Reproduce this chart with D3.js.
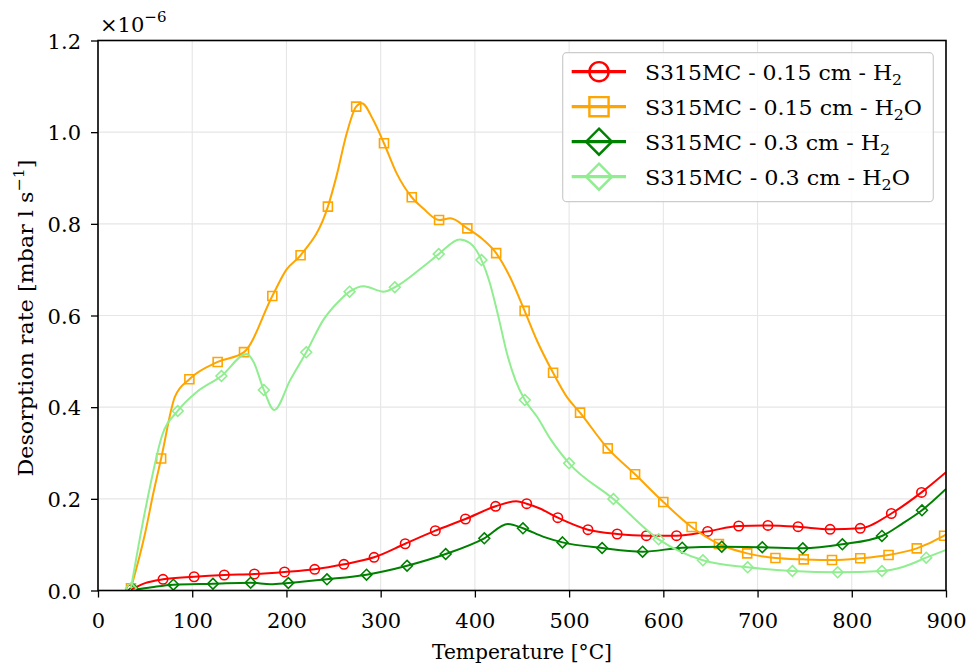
<!DOCTYPE html>
<html>
<head>
<meta charset="utf-8">
<script src="https://cdn.jsdelivr.net/npm/d3@7"></script>
<style>
  body { margin: 0; background: #fff; }
</style>
</head>
<body>
<svg id="chart" width="967" height="665"></svg>
<script>
// ---- axis ticks ----
const xTicks = [0, 100, 200, 300, 400, 500, 600, 700, 800, 900];
const yTicks = [0.0, 0.2, 0.4, 0.6, 0.8, 1.0, 1.2];

// ---- series (temperature in °C, desorption rate in 1e-6 mbar l/s) ----
// "marks" are the sampled points that carry a marker, "between" are the
// remaining samples of the same measured curve.
const seriesNames = ["S315MC - 0.15 cm - H2", "S315MC - 0.15 cm - H2O",
                     "S315MC - 0.3 cm - H2", "S315MC - 0.3 cm - H2O"];
const seriesColors = ["#ff0000", "#ffa500", "#008000", "#90ee90"];
const seriesMarkers = ["circle", "square", "diamond", "diamond"];

const h2Thin_marks = [[35,0.002],[69,0.0244],[102,0.030],[134,0.0338],[166,0.036],[198,0.0404],
  [230,0.0463],[261,0.0572],[293,0.0724],[326,0.102],[358,0.1305],[390,0.156],[422,0.1837],
  [455,0.1894],[488,0.159],[520,0.1327],[551,0.1233],[582,0.1196],[614,0.1196],[647,0.129],
  [680,0.1407],[711,0.142],[743,0.1392],[777,0.1335],[809,0.1356],[842,0.168],[874,0.214]];
const h2Thin_between = [[50,0.016],[444,0.195],[469,0.179],[900,0.258]];

const h2oThin_marks = [[35,0.005],[67,0.288],[97,0.461],[127,0.4986],[155,0.520],[185,0.6426],
  [215,0.7314],[244,0.8375],[274,1.0557],[303.5,0.9758],[333,0.858],[362,0.8084],[392,0.790],
  [422.6,0.736],[452.8,0.6102],[483,0.475],[511.6,0.388],[541,0.310],[570,0.2535],[600,0.193],
  [630,0.1385],[659,0.1015],[689,0.081],[719,0.0709],[749,0.068],[779,0.0665],[809,0.0703],
  [839,0.0775],[869,0.092],[898,0.1196]];
const h2oThin_between = [[50,0.125],[58.7,0.212],[81.7,0.423],[200,0.700],[253,0.903],[264,0.9976],
  [280,1.063],[292,1.027],[317,0.910],[345,0.834],[374,0.812],[409,0.765],[437,0.685],
  [465.6,0.5466],[497.4,0.423],[900,0.122]];

const h2Thick_marks = [[38,0.001],[80,0.0127],[122,0.0148],[162,0.017],[202,0.0164],[243,0.0244],
  [285,0.0345],[328,0.054],[369,0.0796],[410,0.1139],[451,0.1357],[493,0.105],[535,0.0927],
  [578,0.0847],[620,0.0934],[662,0.0956],[705,0.0943],[748,0.092],[790,0.1008],[832,0.119],
  [874.5,0.175]];
const h2Thick_between = [[57,0.007],[183,0.0135],[435,0.145],[473,0.117],[853,0.145],[900,0.2215]];

const h2oThick_marks = [[35,0.005],[84.6,0.3917],[131,0.468],[176,0.4375],[221,0.5197],[267,0.652],
  [315,0.6616],[361.6,0.734],[407,0.721],[453,0.4157],[500,0.2775],[547,0.1996],[595,0.1117],
  [642,0.0659],[689.5,0.0506],[737,0.0425],[785,0.0397],[832,0.0425],[879,0.0716]];
const h2oThick_between = [[42.8,0.0956],[55.2,0.2265],[67.6,0.3356],[103,0.430],[158,0.516],
  [165,0.499],[187,0.394],[204,0.459],[239,0.590],[257,0.634],[282,0.664],[303,0.652],
  [345,0.7065],[384,0.766],[395,0.7576],[416,0.670],[425,0.597],[434,0.5176],[443,0.459],
  [466,0.379],[481,0.328],[618,0.085],[855,0.052],[900,0.0884]];

const seriesMarks = [h2Thin_marks, h2oThin_marks, h2Thick_marks, h2oThick_marks];
const seriesBetween = [h2Thin_between, h2oThin_between, h2Thick_between, h2oThick_between];

// ---- layout ----
const svg = d3.select("#chart");
const plotLeft = 98, plotRight = 946, plotTop = 40.5, plotBottom = 590.5;
const x = d3.scaleLinear().domain([0, 900]).range([plotLeft, plotRight]);
const y = d3.scaleLinear().domain([0, 1.2]).range([plotBottom, plotTop]);
const serif = "DejaVu Serif";

svg.append("rect").attr("width", 967).attr("height", 665).attr("fill", "#fff");

svg.append("defs").append("clipPath").attr("id", "plotClip")
  .append("rect").attr("x", plotLeft).attr("y", plotTop)
  .attr("width", plotRight - plotLeft).attr("height", plotBottom - plotTop);

// grid
const grid = svg.append("g").attr("stroke", "#e6e6e6").attr("stroke-width", 1.1);
grid.selectAll("line.gx").data(xTicks).join("line").attr("class", "gx")
  .attr("x1", d => x(d)).attr("x2", d => x(d)).attr("y1", plotTop).attr("y2", plotBottom);
grid.selectAll("line.gy").data(yTicks).join("line").attr("class", "gy")
  .attr("y1", d => y(d)).attr("y2", d => y(d)).attr("x1", plotLeft).attr("x2", plotRight);

// marker shapes
function markerPath(kind, s) {
  if (kind === "circle") {
    const p = d3.path(); p.moveTo(s, 0); p.arc(0, 0, s, 0, 2 * Math.PI); p.closePath(); return p.toString();
  }
  if (kind === "square") {
    return `M${-s},${-s}L${s},${-s}L${s},${s}L${-s},${s}Z`;
  }
  return `M0,${-s}L${s},0L0,${s}L${-s},0Z`;
}
const plotMarkerSize = { circle: 4.7, square: 4.5, diamond: 5.4 };
const legendMarkerSize = { circle: 9.6, square: 9.6, diamond: 13 };

const line = d3.line().x(d => x(d[0])).y(d => y(d[1])).curve(d3.curveMonotoneX);
const plot = svg.append("g").attr("clip-path", "url(#plotClip)");

seriesNames.forEach((name, i) => {
  const pts = seriesMarks[i].concat(seriesBetween[i]).sort((a, b) => a[0] - b[0]);
  const g = plot.append("g");
  g.append("path").datum(pts).attr("d", line)
    .attr("fill", "none").attr("stroke", seriesColors[i]).attr("stroke-width", 2)
    .attr("stroke-linejoin", "round");
  g.selectAll("path.mk").data(seriesMarks[i]).join("path")
    .attr("class", "mk")
    .attr("transform", d => `translate(${x(d[0])},${y(d[1])})`)
    .attr("d", markerPath(seriesMarkers[i], plotMarkerSize[seriesMarkers[i]]))
    .attr("fill", "none").attr("stroke", seriesColors[i]).attr("stroke-width", 1.6);
});

// axes
const fontSize = 21;
const xAxis = svg.append("g").attr("transform", `translate(0,${plotBottom})`)
  .call(d3.axisBottom(x).tickValues(xTicks).tickSize(7).tickFormat(d3.format("d")));
xAxis.select(".domain").remove();
xAxis.selectAll(".tick line").attr("stroke", "#000").attr("stroke-width", 1.3);
xAxis.selectAll(".tick text").attr("y", 37.8).attr("dy", 0);

const yAxis = svg.append("g").attr("transform", `translate(${plotLeft},0)`)
  .call(d3.axisLeft(y).tickValues(yTicks).tickSize(7).tickFormat(d3.format(".1f")));
yAxis.select(".domain").remove();
yAxis.selectAll(".tick line").attr("stroke", "#000").attr("stroke-width", 1.3);
yAxis.selectAll(".tick text").attr("x", -17).attr("dy", "0.37em");

[xAxis, yAxis].forEach(a => a.attr("font-family", serif).attr("font-size", fontSize));
svg.selectAll(".tick text").attr("fill", "#000");

// frame
svg.append("rect").attr("x", plotLeft).attr("y", plotTop)
  .attr("width", plotRight - plotLeft).attr("height", plotBottom - plotTop)
  .attr("fill", "none").attr("stroke", "#000").attr("stroke-width", 1.6);

// text layer
const labels = svg.append("g").attr("font-family", serif).attr("font-size", fontSize);

// offset text
const off = labels.append("text").attr("x", 100).attr("y", 32);
off.append("tspan").text("×10");
off.append("tspan").attr("dy", -10).attr("font-size", 15).text("−6");

// axis labels
const xl = labels.append("text").attr("x", (plotLeft + plotRight) / 2).attr("y", 659)
  .attr("text-anchor", "middle").text("Temperature [°C]");
const yl = labels.append("text").attr("transform", "translate(33,318) rotate(-90)")
  .attr("text-anchor", "middle");
yl.append("tspan").text("Desorption rate [mbar l s");
yl.append("tspan").attr("dy", -9).attr("font-size", 15).text("−1");
yl.append("tspan").attr("dy", 9).text("]");

function fitWidth(sel, w) {
  sel.attr("textLength", w).attr("lengthAdjust", "spacingAndGlyphs");
}
fitWidth(xl, 180);
fitWidth(yl, 317);

// legend
const legend = svg.append("g");
legend.append("rect").attr("x", 562.7).attr("y", 52.7).attr("width", 370.6).attr("height", 149)
  .attr("rx", 4).attr("fill", "#fff").attr("fill-opacity", 0.85)
  .attr("stroke", "#cccccc").attr("stroke-width", 1.2);
const legendWidths = [257, 277, 245, 265];
seriesNames.forEach((name, i) => {
  const cy = 71.7 + i * 35;
  const g = legend.append("g");
  g.append("line").attr("x1", 571.7).attr("x2", 626).attr("y1", cy).attr("y2", cy)
    .attr("stroke", seriesColors[i]).attr("stroke-width", 3.2);
  g.append("path").attr("transform", `translate(599,${cy})`)
    .attr("d", markerPath(seriesMarkers[i], legendMarkerSize[seriesMarkers[i]]))
    .attr("fill", "none").attr("stroke", seriesColors[i]).attr("stroke-width", 2.4);
  const t = g.append("text").attr("x", 645).attr("y", cy + 8)
    .attr("font-family", serif).attr("font-size", fontSize);
  const m = name.match(/^(.*H)2(O?)$/);
  t.append("tspan").text(m[1]);
  t.append("tspan").attr("dy", 5).attr("font-size", 15).text("2");
  if (m[2]) t.append("tspan").attr("dy", -5).text(m[2]);
  fitWidth(t, legendWidths[i]);
});
</script>
</body>
</html>
